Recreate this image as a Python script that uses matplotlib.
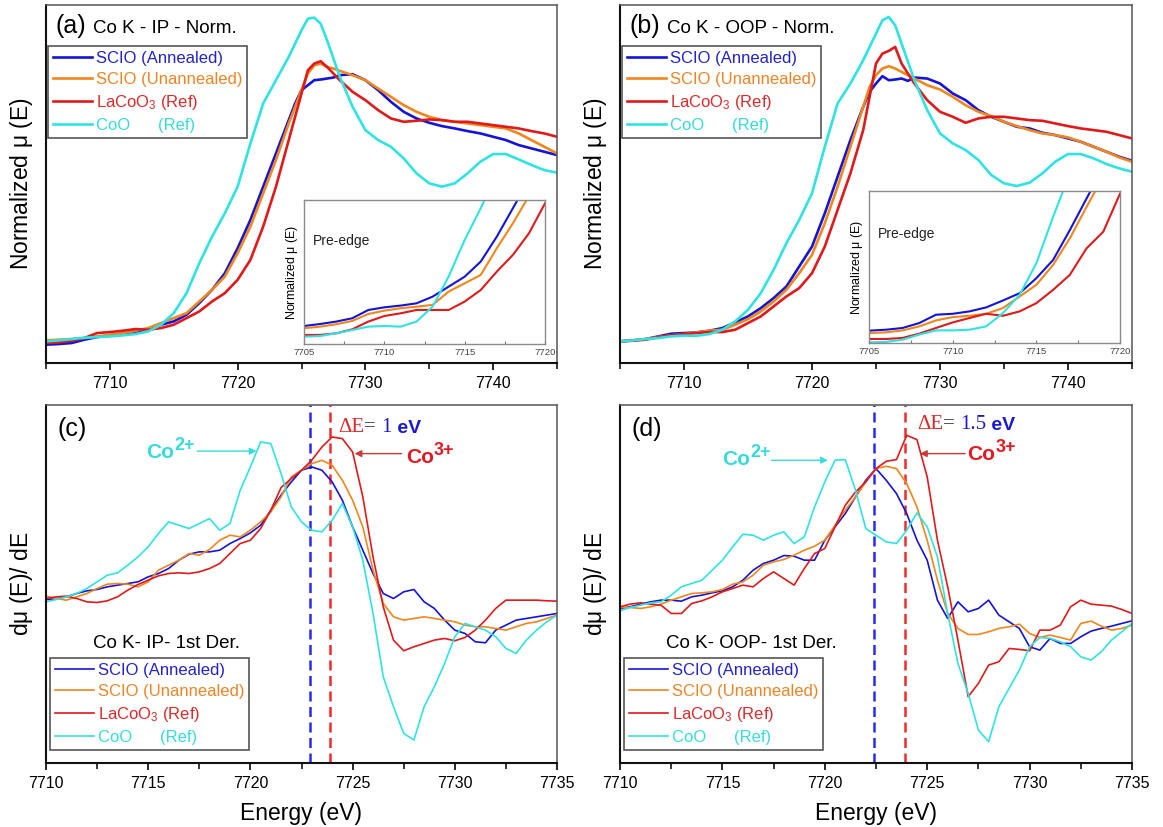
import numpy as np
import matplotlib
matplotlib.use("Agg")
import matplotlib.pyplot as plt
from matplotlib.ticker import MultipleLocator

plt.rcParams["font.family"] = ["Liberation Sans", "DejaVu Sans"]
plt.rcParams["mathtext.fontset"] = "custom"
plt.rcParams["mathtext.rm"] = "Liberation Sans"
plt.rcParams["mathtext.it"] = "Liberation Sans:italic"
plt.rcParams["mathtext.bf"] = "Liberation Sans:bold"

# ---------------------------------------------------------------- data
LABELS = ["SCIO (Annealed)", "SCIO (Unannealed)", r"LaCoO$_3$ (Ref)", "CoO      (Ref)"]
COLORS = ["#1414d8", "#f0861c", "#e01a1a", "#2fe3e3"]
TEXT_COLORS = ["#2323cc", "#ee8426", "#dd2a2a", "#36dcdc"]

# Normalized XANES, Co K edge
E_NORM = [7705, 7706, 7707, 7708, 7709, 7710, 7711, 7712, 7713, 7714,
          7715, 7716, 7717, 7718, 7719, 7720, 7721, 7722, 7723, 7724,
          7724.5, 7725, 7725.5, 7726, 7726.5, 7727, 7727.5,
          7728, 7729, 7730, 7731, 7732, 7733, 7734, 7735, 7736,
          7737, 7738, 7739, 7740, 7741, 7742, 7743, 7744, 7745]

ip_annealed = [-0.01, -0.006, 0.0, 0.02, 0.036, 0.044, 0.05, 0.06, 0.08, 0.11,
               0.13, 0.17, 0.24, 0.32, 0.42, 0.57, 0.74, 0.94, 1.14, 1.34,
               1.44, 1.52, 1.55, 1.58, 1.584, 1.59, 1.596,
               1.61, 1.616, 1.58, 1.52, 1.45, 1.39, 1.35, 1.324, 1.304,
               1.29, 1.274, 1.26, 1.24, 1.22, 1.19, 1.17, 1.15, 1.13]
ip_unannealed = [0.016, 0.02, 0.024, 0.03, 0.04, 0.05, 0.06, 0.074, 0.09, 0.12,
                 0.15, 0.18, 0.25, 0.32, 0.40, 0.54, 0.70, 0.90, 1.10, 1.32,
                 1.42, 1.52, 1.62, 1.67, 1.68, 1.66, 1.65,
                 1.636, 1.61, 1.58, 1.53, 1.48, 1.43, 1.39, 1.36, 1.34,
                 1.33, 1.32, 1.31, 1.30, 1.29, 1.26, 1.22, 1.18, 1.14]
ip_lacoo3 = [0.0, 0.004, 0.014, 0.03, 0.06, 0.066, 0.074, 0.084, 0.08, 0.09,
             0.11, 0.15, 0.19, 0.25, 0.30, 0.38, 0.50, 0.70, 0.94, 1.22,
             1.36, 1.50, 1.64, 1.68, 1.694, 1.66, 1.62,
             1.58, 1.51, 1.46, 1.40, 1.35, 1.33, 1.336, 1.344, 1.34,
             1.33, 1.33, 1.32, 1.31, 1.30, 1.29, 1.274, 1.26, 1.24]
ip_coo = [0.01, 0.016, 0.024, 0.032, 0.036, 0.04, 0.046, 0.054, 0.07, 0.11,
          0.18, 0.30, 0.48, 0.64, 0.78, 0.94, 1.20, 1.44, 1.58, 1.72,
          1.80, 1.88, 1.95, 1.956, 1.92, 1.82, 1.71,
          1.60, 1.42, 1.28, 1.22, 1.18, 1.11, 1.02, 0.96, 0.94,
          0.96, 1.02, 1.09, 1.136, 1.136, 1.104, 1.07, 1.04, 1.024]

oop_annealed = [0.01, 0.016, 0.024, 0.04, 0.056, 0.06, 0.064, 0.074, 0.09, 0.124,
                0.16, 0.21, 0.27, 0.34, 0.46, 0.58, 0.78, 1.00, 1.22, 1.42,
                1.51, 1.56, 1.604, 1.58, 1.584, 1.59, 1.576,
                1.596, 1.59, 1.56, 1.50, 1.46, 1.40, 1.36, 1.33, 1.30,
                1.29, 1.264, 1.25, 1.23, 1.21, 1.18, 1.15, 1.12, 1.096]
oop_unannealed = [0.01, 0.016, 0.024, 0.036, 0.046, 0.054, 0.064, 0.074, 0.08, 0.11,
                  0.144, 0.19, 0.25, 0.32, 0.42, 0.53, 0.72, 0.94, 1.18, 1.42,
                  1.54, 1.61, 1.65, 1.664, 1.65, 1.63, 1.61,
                  1.59, 1.55, 1.524, 1.48, 1.43, 1.39, 1.364, 1.33, 1.304,
                  1.28, 1.26, 1.25, 1.236, 1.21, 1.18, 1.15, 1.116, 1.09]
oop_lacoo3 = [0.01, 0.014, 0.02, 0.036, 0.046, 0.054, 0.06, 0.066, 0.066, 0.08,
              0.12, 0.16, 0.22, 0.28, 0.33, 0.42, 0.58, 0.80, 1.02, 1.28,
              1.48, 1.68, 1.74, 1.756, 1.78, 1.68, 1.62,
              1.56, 1.46, 1.39, 1.36, 1.324, 1.35, 1.36, 1.36, 1.35,
              1.34, 1.336, 1.32, 1.304, 1.29, 1.28, 1.27, 1.25, 1.23]
oop_coo = [0.01, 0.016, 0.024, 0.03, 0.04, 0.044, 0.044, 0.054, 0.08, 0.13,
           0.20, 0.30, 0.44, 0.60, 0.74, 0.90, 1.18, 1.44, 1.56, 1.70,
           1.78, 1.86, 1.94, 1.96, 1.91, 1.80, 1.69,
           1.58, 1.40, 1.26, 1.20, 1.16, 1.10, 1.01, 0.96, 0.944,
           0.964, 1.02, 1.09, 1.136, 1.136, 1.11, 1.076, 1.05, 1.03]

# Pre-edge close-ups
E_PRE = [7705, 7706, 7707, 7708, 7709, 7710, 7711, 7712,
         7713, 7714, 7715, 7716, 7717, 7718, 7719, 7720]
pre_ip_annealed = [0.155, 0.17, 0.188, 0.213, 0.275, 0.295, 0.308, 0.325,
                   0.375, 0.45, 0.525, 0.638, 0.825, 1.038, 1.25, 1.45]
pre_ip_unannealed = [0.138, 0.15, 0.168, 0.193, 0.245, 0.27, 0.288, 0.30,
                     0.313, 0.413, 0.475, 0.538, 0.738, 0.925, 1.13, 1.33]
pre_ip_lacoo3 = [0.088, 0.088, 0.10, 0.13, 0.188, 0.23, 0.25, 0.275,
                 0.275, 0.275, 0.338, 0.425, 0.563, 0.688, 0.85, 1.075]
pre_ip_coo = [0.075, 0.08, 0.10, 0.125, 0.15, 0.155, 0.15, 0.188,
              0.30, 0.525, 0.80, 1.038, 1.30]

pre_oop_annealed = [0.118, 0.125, 0.138, 0.175, 0.238, 0.245, 0.263, 0.293,
                    0.345, 0.40, 0.513, 0.65, 0.875, 1.113, 1.35]
pre_oop_unannealed = [0.10, 0.105, 0.12, 0.15, 0.195, 0.22, 0.23, 0.245,
                      0.288, 0.375, 0.463, 0.613, 0.813, 1.05, 1.28]
pre_oop_lacoo3 = [0.055, 0.055, 0.063, 0.095, 0.138, 0.18, 0.213, 0.245,
                  0.23, 0.263, 0.325, 0.425, 0.538, 0.738, 0.863, 1.15]
pre_oop_coo = [0.03, 0.033, 0.05, 0.088, 0.12, 0.12, 0.125, 0.15,
               0.25, 0.388, 0.625, 0.975, 1.30]

# First derivatives, 0.5 eV steps from 7710 to 7735 eV
E_DER = np.arange(7710.0, 7735.25, 0.5)

der_ip_annealed = [0.004, 0.008, 0.020, 0.040, 0.056, 0.064, 0.080, 0.090, 0.100, 0.110,
                   0.140, 0.160, 0.190, 0.240, 0.276, 0.290, 0.290, 0.300, 0.340, 0.370,
                   0.404, 0.450, 0.540, 0.630, 0.710, 0.780, 0.800, 0.780, 0.710, 0.600,
                   0.440, 0.300, 0.160, 0.040, 0.010, 0.050, 0.064, -0.010, -0.050, -0.120,
                   -0.180, -0.200, -0.250, -0.256, -0.180, -0.150, -0.120, -0.110, -0.100, -0.090, -0.080]
der_ip_unannealed = [0.024, 0.010, 0.000, 0.020, 0.040, 0.070, 0.096, 0.100, 0.096, 0.080,
                     0.110, 0.180, 0.210, 0.240, 0.280, 0.270, 0.304, 0.360, 0.390, 0.380,
                     0.420, 0.470, 0.530, 0.620, 0.740, 0.780, 0.820, 0.840, 0.810, 0.720,
                     0.600, 0.440, 0.180, -0.020, -0.100, -0.120, -0.110, -0.100, -0.110, -0.120,
                     -0.130, -0.150, -0.160, -0.160, -0.170, -0.180, -0.160, -0.140, -0.130, -0.110, -0.090]
der_ip_lacoo3 = [0.010, 0.020, 0.024, 0.010, -0.010, -0.014, -0.004, 0.020, 0.060, 0.094,
                 0.120, 0.146, 0.160, 0.164, 0.160, 0.170, 0.190, 0.220, 0.280, 0.340,
                 0.360, 0.430, 0.540, 0.676, 0.730, 0.780, 0.840, 0.920, 0.980, 0.970,
                 0.890, 0.620, 0.260, -0.040, -0.240, -0.304, -0.280, -0.260, -0.240, -0.230,
                 -0.244, -0.224, -0.180, -0.120, -0.050, 0.000, 0.000, 0.000, 0.000, -0.004, -0.006]
der_ip_coo = [-0.010, 0.004, 0.020, 0.040, 0.070, 0.110, 0.150, 0.164, 0.210, 0.260,
              0.320, 0.400, 0.470, 0.450, 0.430, 0.460, 0.490, 0.420, 0.460, 0.660,
              0.800, 0.950, 0.940, 0.760, 0.560, 0.470, 0.420, 0.410, 0.480, 0.580,
              0.440, 0.240, -0.080, -0.460, -0.640, -0.800, -0.840, -0.640, -0.520, -0.380,
              -0.220, -0.140, -0.160, -0.180, -0.220, -0.290, -0.320, -0.240, -0.180, -0.130, -0.090]

der_oop_annealed = [-0.050, -0.040, -0.024, -0.010, 0.000, 0.000, -0.006, 0.020, 0.030, 0.044,
                    0.056, 0.080, 0.120, 0.180, 0.220, 0.240, 0.268, 0.264, 0.240, 0.240,
                    0.360, 0.440, 0.520, 0.620, 0.720, 0.790, 0.720, 0.640, 0.520, 0.360,
                    0.240, 0.000, -0.110, -0.010, -0.070, -0.050, 0.000, -0.090, -0.130, -0.170,
                    -0.280, -0.300, -0.230, -0.260, -0.260, -0.220, -0.186, -0.170, -0.156, -0.140, -0.124]
der_oop_unannealed = [-0.044, -0.044, -0.050, -0.040, -0.024, 0.000, 0.020, 0.040, 0.044, 0.050,
                      0.064, 0.096, 0.110, 0.150, 0.210, 0.230, 0.244, 0.270, 0.300, 0.324,
                      0.360, 0.450, 0.540, 0.620, 0.710, 0.790, 0.804, 0.790, 0.700, 0.560,
                      0.360, 0.120, -0.080, -0.170, -0.206, -0.206, -0.190, -0.170, -0.160, -0.144,
                      -0.200, -0.224, -0.210, -0.224, -0.240, -0.140, -0.126, -0.156, -0.180, -0.170, -0.150]
der_oop_lacoo3 = [-0.040, -0.024, -0.016, -0.024, -0.030, -0.080, -0.080, -0.020, -0.004, 0.020,
                  0.050, 0.070, 0.090, 0.080, 0.130, 0.170, 0.130, 0.090, 0.190, 0.280,
                  0.310, 0.440, 0.570, 0.650, 0.710, 0.790, 0.834, 0.844, 0.990, 0.964,
                  0.740, 0.360, 0.080, -0.240, -0.580, -0.500, -0.390, -0.370, -0.290, -0.296,
                  -0.304, -0.180, -0.180, -0.150, -0.040, 0.000, -0.024, -0.030, -0.036, -0.056, -0.080]
der_oop_coo = [-0.064, -0.044, -0.030, -0.016, -0.010, 0.030, 0.080, 0.100, 0.120, 0.180,
               0.240, 0.320, 0.396, 0.390, 0.360, 0.390, 0.410, 0.340, 0.380, 0.560,
               0.710, 0.840, 0.844, 0.660, 0.430, 0.390, 0.350, 0.340, 0.420, 0.524,
               0.440, 0.260, -0.080, -0.380, -0.560, -0.780, -0.850, -0.640, -0.530, -0.420,
               -0.280, -0.224, -0.230, -0.250, -0.280, -0.340, -0.360, -0.310, -0.240, -0.190, -0.140]

# Edge positions (first-derivative maxima) of SCIO and LaCoO3
EDGE_IP = (7722.9, 7723.9)
EDGE_OOP = (7722.4, 7723.9)
DELTA_IP = "1"
DELTA_OOP = "1.5"

# ---------------------------------------------------------------- figure
fig = plt.figure(figsize=(11.63, 8.27), dpi=100)
W, H = 1163.0, 827.0


def rect(x0, y0, x1, y1):
    return [x0 / W, 1 - y1 / H, (x1 - x0) / W, (y1 - y0) / H]


ax_a = fig.add_axes(rect(46, 5, 557, 363))
ax_b = fig.add_axes(rect(620, 5, 1132, 363))
ax_c = fig.add_axes(rect(46, 405, 557, 763))
ax_d = fig.add_axes(rect(620, 405, 1132, 763))


def style_main(ax, xlim, major, minor):
    ax.set_xlim(*xlim)
    ax.xaxis.set_major_locator(MultipleLocator(major))
    ax.xaxis.set_minor_locator(MultipleLocator(minor))
    ax.set_yticks([])
    ax.tick_params(axis="x", which="major", direction="out", length=5, width=1.2,
                   labelsize=11.5, pad=4)
    ax.tick_params(axis="x", which="minor", direction="out", length=4, width=1.1)
    for side in ("left", "bottom"):
        ax.spines[side].set_linewidth(1.5)
        ax.spines[side].set_color("#111111")
    for side in ("top", "right"):
        ax.spines[side].set_linewidth(1.1)
        ax.spines[side].set_color("#555555")


def add_legend(ax, handles, loc, anchor):
    leg = ax.legend(handles=handles, loc=loc, bbox_to_anchor=anchor,
                    fontsize=12, frameon=True, fancybox=False, framealpha=1,
                    edgecolor="#555555", handlelength=2.35, handletextpad=0.2,
                    borderpad=0.3, labelspacing=0.36, borderaxespad=0)
    leg.get_frame().set_linewidth(1.2)
    for txt, c in zip(leg.get_texts(), TEXT_COLORS):
        txt.set_color(c)
    return leg


def draw_norm(ax, series, tag, title):
    handles = []
    for vals, c, lab in zip(series, COLORS, LABELS):
        h, = ax.plot(E_NORM, vals, color=c, lw=1.9, label=lab)
        handles.append(h)
    ax.set_ylim(-0.12, 2.032)
    style_main(ax, (7705, 7745), 10, 5)
    ax.set_ylabel(r"Normalized $\mathregular{\mu}$ (E)", fontsize=16.5, labelpad=8)
    ax.text(0.018, 0.922, tag, transform=ax.transAxes, fontsize=18, va="baseline")
    ax.text(0.091, 0.922, title, transform=ax.transAxes, fontsize=13.5, va="baseline")
    add_legend(ax, handles, "upper left", (0.004, 0.885))


def draw_inset(rect_px, series, ylim):
    ins = fig.add_axes(rect(*rect_px))
    ins.set_facecolor("white")
    for vals, c in zip(series, COLORS):
        ins.plot(E_PRE[:len(vals)], vals, color=c, lw=1.5)
    ins.set_xlim(7705, 7720)
    ins.set_ylim(*ylim)
    ins.set_yticks([])
    ins.xaxis.set_major_locator(MultipleLocator(5))
    ins.xaxis.set_minor_locator(MultipleLocator(2.5))
    ins.tick_params(axis="x", which="both", direction="in", length=2.5, width=0.8,
                    labelsize=6.8, labelcolor="#444444", color="#777777", pad=3)
    for sp in ins.spines.values():
        sp.set_color("#8a8a8a")
        sp.set_linewidth(1.0)
    ins.set_ylabel(r"Normalized $\mathregular{\mu}$ (E)", fontsize=9, labelpad=3)
    ins.text(0.037, 0.69, "Pre-edge", transform=ins.transAxes, fontsize=10,
             va="baseline", color="#222222")
    return ins


def superscript_label(ax, x, y, base, sup, color):
    t = ax.text(x, y, base, color=color, fontsize=15, fontweight="bold", va="baseline")
    ax.annotate(sup, xy=(1.0, 0.45), xycoords=t, color=color, fontsize=13,
                fontweight="bold", va="bottom", ha="left")


def delta_label(ax, x, y, value):
    t1 = ax.text(x, y, "\u0394E", family="Liberation Serif", fontsize=15,
                 color="#e02828", va="baseline")
    t2 = ax.annotate("= ", xy=(1, 0), xycoords=t1, family="Liberation Serif",
                     fontsize=15, color="#303060", va="bottom", ha="left")
    t3 = ax.annotate(value, xy=(1, 0), xycoords=t2, family="Liberation Serif",
                     fontsize=15, color="#1a1ad0", va="bottom", ha="left")
    ax.annotate(" eV", xy=(1, 0), xycoords=t3, fontsize=14, fontweight="bold",
                color="#1a1ad0", va="bottom", ha="left")


def draw_der(ax, series, tag, title, edges, delta, pos):
    handles = []
    for vals, c, lab in zip(series, COLORS, LABELS):
        h, = ax.plot(E_DER, vals, color=c, lw=1.2, label=lab)
        handles.append(h)
    ax.set_ylim(-0.978, 1.172)
    style_main(ax, (7710, 7735), 5, 2.5)
    ax.axvline(edges[0], color="#2a2af5", lw=1.8, ls=(0, (4, 2.2)), zorder=1)
    ax.axvline(edges[1], color="#f52a2a", lw=1.8, ls=(0, (4, 2.2)), zorder=1)
    ax.set_ylabel(r"d$\mathregular{\mu}$ (E)/ dE", fontsize=16.5, labelpad=8)
    ax.set_xlabel("Energy (eV)", fontsize=16.5, labelpad=8)
    ax.text(0.022, 0.913, tag, transform=ax.transAxes, fontsize=18, va="baseline")
    ax.text(pos["title_x"], 0.321, title, transform=ax.transAxes, fontsize=13.5,
            va="baseline")
    add_legend(ax, handles, "lower left", (0.008, 0.036))

    # Co2+ marker
    superscript_label(ax, pos["co2_text"][0], pos["co2_text"][1], "Co", "2+", "#36dcdc")
    ax.annotate("", xy=pos["co2_arrow"][1], xytext=pos["co2_arrow"][0],
                arrowprops=dict(arrowstyle="-|>", color="#36dcdc", lw=1.0,
                                mutation_scale=10, shrinkA=0, shrinkB=0))
    # Co3+ marker
    superscript_label(ax, pos["co3_text"][0], pos["co3_text"][1], "Co", "3+", "#e8161e")
    ax.annotate("", xy=pos["co3_arrow"][1], xytext=pos["co3_arrow"][0],
                arrowprops=dict(arrowstyle="-|>", color="#c83a3a", lw=1.0,
                                mutation_scale=10, shrinkA=0, shrinkB=0))
    delta_label(ax, pos["delta"][0], pos["delta"][1], delta)


# Panel (a) and (b): normalized spectra
draw_norm(ax_a, [ip_annealed, ip_unannealed, ip_lacoo3, ip_coo],
          "(a)", "Co K - IP - Norm.")
draw_norm(ax_b, [oop_annealed, oop_unannealed, oop_lacoo3, oop_coo],
          "(b)", "Co K - OOP - Norm.")

draw_inset((304, 200, 545, 344),
           [pre_ip_annealed, pre_ip_unannealed, pre_ip_lacoo3, pre_ip_coo], (0.02, 1.10))
draw_inset((869, 191, 1120, 343),
           [pre_oop_annealed, pre_oop_unannealed, pre_oop_lacoo3, pre_oop_coo], (0.025, 1.17))

# Panel (c) and (d): first derivatives
draw_der(ax_c, [der_ip_annealed, der_ip_unannealed, der_ip_lacoo3, der_ip_coo],
         "(c)", "Co K- IP- 1st Der.", EDGE_IP, DELTA_IP,
         dict(title_x=0.092,
              co2_text=(7714.9, 0.852), co2_arrow=((7717.4, 0.895), (7720.3, 0.895)),
              co3_text=(7727.6, 0.822), co3_arrow=((7727.4, 0.88), (7725.1, 0.88)),
              delta=(7724.3, 1.008)))
draw_der(ax_d, [der_oop_annealed, der_oop_unannealed, der_oop_lacoo3, der_oop_coo],
         "(d)", "Co K- OOP- 1st Der.", EDGE_OOP, DELTA_OOP,
         dict(title_x=0.090,
              co2_text=(7715.0, 0.81), co2_arrow=((7717.4, 0.84), (7720.15, 0.84)),
              co3_text=(7726.95, 0.84), co3_arrow=((7726.85, 0.88), (7724.65, 0.88)),
              delta=(7724.5, 1.026)))

fig.savefig("out.png", dpi=100, facecolor="white")
